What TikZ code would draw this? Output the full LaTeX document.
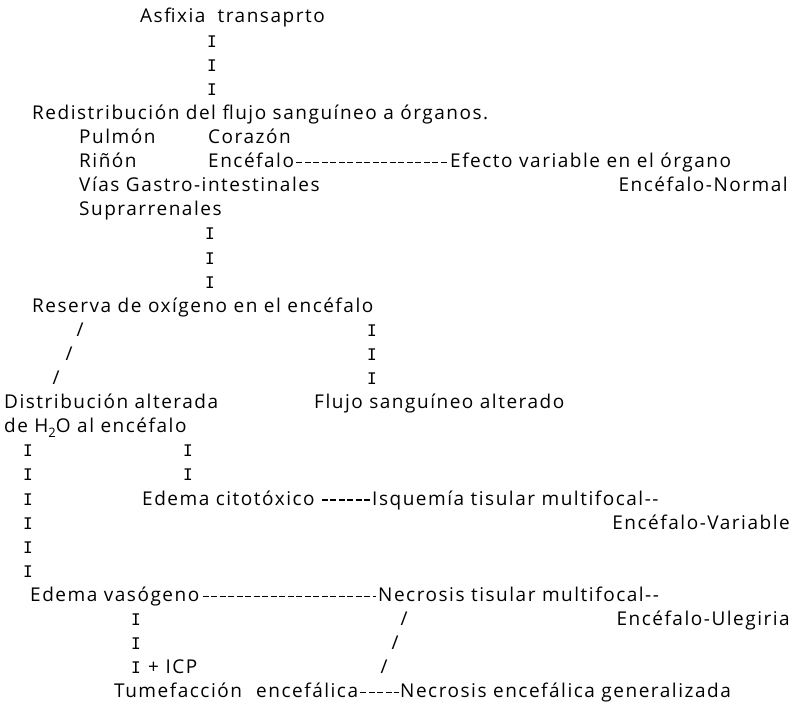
\documentclass[tikz,border=0pt]{standalone}
\usepackage{fontspec}
\setmainfont{Open Sans}[LetterSpace=8]
\newfontfamily\ifnt{DejaVu Sans Mono}
\usetikzlibrary{calc}
\tikzset{
  t/.style={anchor=base west, inner sep=0pt, font=\fontsize{19}{21}\selectfont},
  te/.style={t, anchor=base east},
  ic/.style={anchor=base, inner sep=0pt, font=\ifnt\fontsize{16}{18}\selectfont},
  sl/.style={anchor=base, inner sep=0pt, font=\fontsize{19}{21}\selectfont},
  dl/.style={line width=1.3pt, dash pattern=on 6pt off 2.5pt}
}
\begin{document}
\begin{tikzpicture}[x=1pt,y=-1pt]
\useasboundingbox (0,0) rectangle (793,712);
% rows 1-4
\node[t] (asf) at (140,23) {Asfixia\hspace{0.3em} transaprto};
\node[ic] (a1) at (212,47.1) {I};
\node[ic] (a2) at (212,71.2) {I};
\node[ic] (a3) at (212,95.3) {I};
% rows 5-9
\node[t] (red) at (32,119.4) {Redistribución del flujo sanguíneo a órganos.};
\node[t] (pul) at (79,143.5) {Pulmón};
\node[t] (cor) at (208,143.5) {Corazón};
\node[t] (rin) at (79,167.6) {Riñón};
\node[t] (enc) at (208,167.6) {Encéfalo};
\node[t] (efe) at (450,167.6) {Efecto variable en el órgano};
\node[t] (via) at (79,191.7) {Vías Gastro-intestinales};
\node[te] (enn) at (788,191.7) {Encéfalo-Normal};
\node[t] (sup) at (79,215.8) {Suprarrenales};
\draw[dl] ([xshift=2pt,yshift=5pt]enc.base east) -- ([xshift=-1pt,yshift=5pt]efe.base west);
% rows 10-12
\node[ic] (b1) at (210,239.9) {I};
\node[ic] (b2) at (210,264) {I};
\node[ic] (b3) at (210,288.1) {I};
% row 13
\node[t] (res) at (32,312.2) {Reserva de oxígeno en el encéfalo};
% rows 14-16
\node[sl] (s1) at (80,336.3) {/};
\node[sl] (s2) at (69,360.4) {/};
\node[sl] (s3) at (56,384.5) {/};
\node[ic] (c1) at (372,336.3) {I};
\node[ic] (c2) at (372,360.4) {I};
\node[ic] (c3) at (372,384.5) {I};
% rows 17-18
\node[t] (dis) at (4,408.6) {Distribución alterada};
\node[t] (flu) at (314,408.6) {Flujo sanguíneo alterado};
\node[t] (deh) at (4,432.7) {de H\raisebox{-5pt}{\fontsize{13}{14}\selectfont 2}O al encéfalo};
% rows 19-24
\node[ic] (d1) at (28,456.8) {I};
\node[ic] (d2) at (28,480.9) {I};
\node[ic] (d3) at (28,505) {I};
\node[ic] (d4) at (28,529.1) {I};
\node[ic] (d5) at (28,553.2) {I};
\node[ic] (d6) at (28,577.3) {I};
\node[ic] (e1) at (188,456.8) {I};
\node[ic] (e2) at (188,480.9) {I};
\node[t] (edc) at (142,505) {Edema citotóxico};
\node[t] (isq) at (372,505) {Isquemía tisular multifocal-{}-};
\draw[dl] ([xshift=7pt,yshift=5pt]edc.base east) -- ([xshift=-1pt,yshift=5pt]isq.base west);
\node[te] (env) at (790,529.1) {Encéfalo-Variable};
% rows 25-29
\node[t] (edv) at (30,601.4) {Edema vasógeno};
\node[t] (nec) at (378,601.4) {Necrosis tisular multifocal-{}-};
\draw[dl] ([xshift=3pt,yshift=5pt]edv.base east) -- ([xshift=-2pt,yshift=5pt]nec.base west);
\node[te] (enu) at (790,625.5) {Encéfalo-Ulegiria};
\node[ic] (f1) at (136,625.5) {I};
\node[ic] (f2) at (136,649.6) {I};
\node[ic] (f3) at (136,673.7) {I};
\node[t] (icp) at (148,673.7) {+ ICP};
\node[sl] (g1) at (404,625.5) {/};
\node[sl] (g2) at (395,649.6) {/};
\node[sl] (g3) at (384,673.7) {/};
\node[t] (tum) at (114,697.8) {Tumefacción};
\node[t] (ence) at (256,697.8) {encefálica};
\node[t] (neg) at (400,697.8) {Necrosis encefálica generalizada};
\draw[dl] ([xshift=2pt,yshift=5pt]ence.base east) -- ([xshift=-1pt,yshift=5pt]neg.base west);
\end{tikzpicture}
\end{document}
